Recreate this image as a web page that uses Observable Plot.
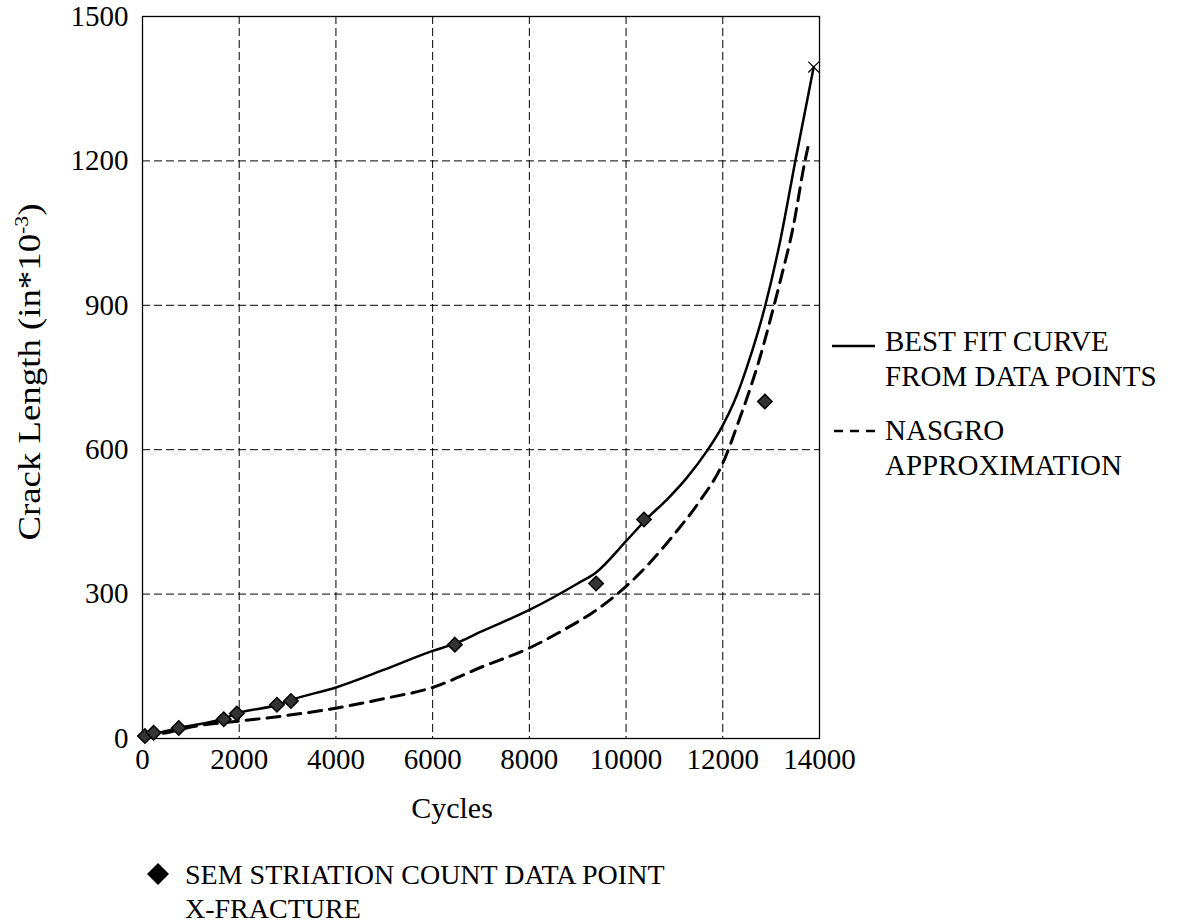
<!DOCTYPE html>
<html>
<head>
<meta charset="utf-8">
<script src="https://cdn.jsdelivr.net/npm/d3@7"></script>
<script src="https://cdn.jsdelivr.net/npm/@observablehq/plot@0.6"></script>
<style>
  html, body { margin: 0; padding: 0; background: #fff; }
  #wrap { position: relative; width: 1179px; height: 924px; font-family: "Liberation Serif", "Times New Roman", serif; color: #000; }
  #chart { position: absolute; left: 0; top: 0; }
  .lbl { position: absolute; font-size: 29px; line-height: 35px; white-space: nowrap; }
  .ylab { position: absolute; left: 29px; top: 372px; font-size: 32px; white-space: nowrap; transform: translate(-50%, -50%) rotate(-90deg) scaleX(1.15); }
  .ylab sup { font-size: 19px; vertical-align: 12px; line-height: 0; }
  svg.key { position: absolute; overflow: visible; }
</style>
</head>
<body>
<div id="wrap">
  <div id="chart"></div>
  <div class="ylab">Crack Length (in*10<sup>-3</sup>)</div>
  <svg class="key" style="left:830px; top:336px;" width="50" height="20"><line x1="2" y1="10" x2="45" y2="10" stroke="#000" stroke-width="2.5"/></svg>
  <div class="lbl" style="left:885px; top:324px;">BEST FIT CURVE<br>FROM DATA POINTS</div>
  <svg class="key" style="left:830px; top:421px;" width="50" height="20"><line x1="4" y1="10" x2="45" y2="10" stroke="#000" stroke-width="2.5" stroke-dasharray="9,7"/></svg>
  <div class="lbl" style="left:885px; top:413px;">NASGRO<br>APPROXIMATION</div>
  <svg class="key" style="left:146px; top:862px;" width="24" height="24"><path d="M12,1 L23,12 L12,23 L1,12 Z" fill="#000"/></svg>
  <div class="lbl" style="left:185px; top:858px; font-size:28px; line-height:34px;">SEM STRIATION COUNT DATA POINT<br>X-FRACTURE</div>
</div>
<script>
// Best fit curve from data points (cycles, crack length in*10^-3)
const fitCycles = [0, 250, 750, 1700, 1950, 2800, 3070, 4000, 5000, 6000, 6460, 7000, 8000, 9000, 9380, 10000, 10430, 10840, 11250, 11670, 11980, 12290, 12500, 12880, 13200, 13500, 13880];
const fitCrack  = [5, 10, 22, 42, 52, 70, 80, 106, 143, 182, 197, 222, 267, 322, 345, 410, 457, 496, 541, 597, 647, 713, 772, 900, 1040, 1200, 1395];

// NASGRO approximation
const nasgroCycles = [0, 500, 1000, 2000, 3000, 4000, 5000, 6000, 7000, 8000, 8700, 9400, 10000, 10500, 11000, 11500, 12000, 12350, 12550, 12770, 12980, 13200, 13450, 13700, 13760];
const nasgroCrack  = [5, 12, 24, 36, 48, 63, 83, 106, 148, 188, 225, 268, 316, 366, 425, 490, 572, 665, 722, 792, 869, 955, 1060, 1200, 1228];

// SEM striation count data points
const semCycles = [50, 230, 750, 1680, 1950, 2780, 3070, 6460, 9380, 10370, 12870];
const semCrack  = [5, 12, 22, 40, 52, 70, 78, 195, 322, 455, 700];

// X-fracture
const fracCycles = [13880];
const fracCrack  = [1395];

const xTicks = [0, 2000, 4000, 6000, 8000, 10000, 12000, 14000];
const yTicks = [0, 300, 600, 900, 1200, 1500];

const fit = fitCycles.map((c, i) => ({c, a: fitCrack[i]}));
const nasgro = nasgroCycles.map((c, i) => ({c, a: nasgroCrack[i]}));
const sem = semCycles.map((c, i) => ({c, a: semCrack[i]}));
const frac = fracCycles.map((c, i) => ({c, a: fracCrack[i]}));

const chart = Plot.plot({
  width: 1179,
  height: 840,
  marginLeft: 142,
  marginRight: 360,
  marginTop: 16,
  marginBottom: 102,
  style: {fontFamily: "Liberation Serif, Times New Roman, serif", fontSize: "29px", color: "#000", background: "#fff", overflow: "visible"},
  x: {domain: [0, 14000]},
  y: {domain: [0, 1500]},
  marks: [
    Plot.gridX({ticks: xTicks.slice(1, -1), stroke: "#000", strokeOpacity: 1, strokeWidth: 1, strokeDasharray: "8,4"}),
    Plot.gridY({ticks: yTicks.slice(1, -1), stroke: "#000", strokeOpacity: 1, strokeWidth: 1, strokeDasharray: "8,4"}),
    Plot.frame({stroke: "#000", strokeWidth: 1.3}),
    Plot.axisX({ticks: xTicks, tickSize: 0, tickPadding: 10, tickFormat: d => String(d), label: null}),
    Plot.axisY({ticks: yTicks, tickSize: 0, tickPadding: 14, tickFormat: d => String(d), label: null}),
    Plot.text(["Cycles"], {frameAnchor: "bottom", dx: -29, dy: 79, fontSize: 30}),
    Plot.line(nasgro, {x: "c", y: "a", curve: "monotone-x", stroke: "#000", strokeWidth: 3, strokeDasharray: "13,8"}),
    Plot.line(fit, {x: "c", y: "a", curve: "monotone-x", stroke: "#000", strokeWidth: 2.5}),
    Plot.dot(sem, {x: "c", y: "a", symbol: "diamond2", r: 6.5, fill: "#333", stroke: "#000", strokeWidth: 1.5}),
    Plot.dot(frac, {x: "c", y: "a", symbol: "times", r: 5, stroke: "#000", strokeWidth: 1.2})
  ]
});
document.getElementById("chart").appendChild(chart);
</script>
</body>
</html>
